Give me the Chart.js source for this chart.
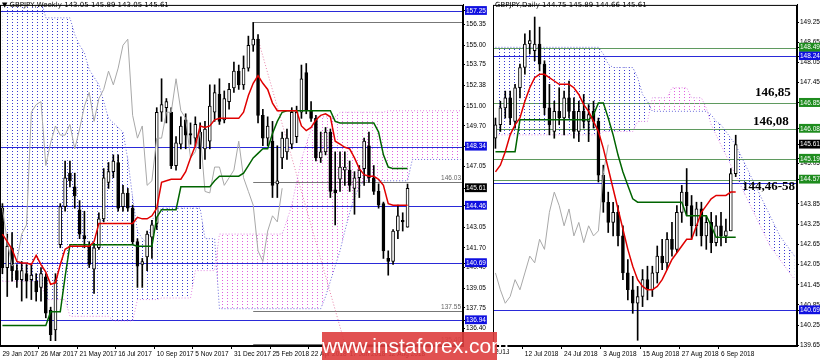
<!DOCTYPE html>
<html lang="en">
<head>
<meta charset="UTF-8">
<title>GBPJPY Weekly / Daily</title>
<script src="https://cdn.jsdelivr.net/npm/chart.js"></script>
<style>
  body { margin: 0; background: #fff; font-family: 'DejaVu Sans', sans-serif; }
  #wrap { position: relative; width: 820px; height: 363px; overflow: hidden; }
  canvas { position: absolute; top: 0; }
  .hdr { position: absolute; top: 1px; font-size: 7px; color: #000; white-space: nowrap; }
  .note { position: absolute; font-family: 'Liberation Serif', serif; font-weight: bold; font-size: 13px; color: #000; white-space: nowrap; }
  .cut { position: absolute; top: 348px; font-family: 'Liberation Sans', sans-serif; font-size: 6.5px; color: #000; }
  #wm { position: absolute; left: 322px; top: 332px; width: 175px; height: 28px; background: rgba(222,62,62,0.9);
        color: #fff; font-family: 'Liberation Sans', Arial, sans-serif; font-size: 21px; line-height: 28px; text-align: center; }
</style>
</head>
<body>
<div id="wrap">
  <canvas id="weekly" width="492" height="363" style="left:0"></canvas>
  <canvas id="daily" width="328" height="363" style="left:492px"></canvas>
  <div class="hdr" style="left:2px">▼ GBPJPY,Weekly 143.05 145.89 143.05 145.61</div>
  <div class="hdr" style="left:495px">GBPJPY,Daily 144.75 145.89 144.66 145.61</div>
  <div class="note" style="left:755px;top:84px">146,85</div>
  <div class="note" style="left:753px;top:113px">146,08</div>
  <div class="note" style="left:742px;top:178px">144,46-58</div>
  <div class="cut" style="left:495px">2018</div>
  <div id="wm">www.instaforex.com</div>
</div>
<script>
// ---------- weekly (left) ----------
const lSlots = 96;
const lTickIdx  = [0, 8, 16, 24, 32, 40, 48, 56, 64, 72, 80];
const lTickText = ['29 Jan 2017','26 Mar 2017','21 May 2017','16 Jul 2017','10 Sep 2017','5 Nov 2017',
                   '31 Dec 2017','25 Feb 2018','22 Apr 2018','17 Jun 2018','12 Aug 2018'];
const lOpen  = [144.3,140.4,141.7,140.2,139.6,140.0,139.6,139.5,139.1,139.8, 137.6,136.3,141.9,144.4,146.6,145.7,144.2,142.5,141.8,140.3,
                141.7,143.6,146.0,146.7,147.3,144.4,145.3,144.3,142.1,140.6, 141.1,142.4,143.3,150.6,150.9,150.6,147.1,148.5,150.1,149.2,
                148.9,149.3,148.2,148.7,150.6,151.8,150.1,151.3,152.2,153.3, 152.4,153.5,155.0,155.4,150.4,148.9,148.7,145.9,147.6,148.0,
                148.5,149.0,150.6,153.2,150.7,150.2,147.6,148.0,149.3,145.5, 146.2,146.8,146.8,145.6,146.3,146.9,148.4,146.3,145.4,144.6,
                141.0,140.8,142.8,143.5,143.05];
const lHigh  = [144.6,142.6,142.7,140.6,140.8,140.6,140.6,140.0,140.4,140.0, 137.8,140.0,144.6,147.4,147.4,146.6,144.8,144.1,142.1,142.0,
                144.0,146.9,147.3,147.8,147.8,145.8,145.6,144.5,142.3,141.0, 142.8,143.5,150.9,152.8,151.5,150.9,149.0,150.3,150.5,149.9,
                150.3,149.9,150.0,152.4,152.4,152.8,152.0,152.5,153.9,153.7, 154.3,155.6,156.5,155.7,150.8,150.3,150.0,148.4,149.3,149.5,
                150.9,151.0,153.7,153.8,151.3,150.4,149.3,149.6,149.5,148.0, 148.0,148.0,147.4,146.7,147.1,148.9,149.3,147.1,145.9,144.7,
                141.5,142.9,144.5,144.0,145.89];
const lLow   = [140.0,138.5,139.5,139.1,138.2,138.4,138.3,138.2,138.2,137.1, 135.6,135.6,141.7,144.1,145.7,144.3,142.3,141.7,140.4,138.7,
                141.6,143.4,145.6,146.3,144.1,144.1,144.1,141.9,139.1,139.1, 140.2,141.0,142.9,150.0,149.9,146.9,146.8,148.2,148.2,148.5,
                148.4,146.9,147.5,148.2,150.0,149.8,149.9,150.8,151.9,152.1, 152.1,153.3,154.6,149.9,148.4,148.4,145.0,145.0,146.9,147.5,
                148.2,148.6,150.2,150.5,150.0,147.4,147.3,147.8,145.0,143.2, 145.4,145.8,145.4,143.9,145.0,145.8,146.0,145.2,144.3,141.0,
                139.9,140.6,142.3,142.8,143.05];
const lClose = [140.4,141.8,140.2,139.6,140.2,139.5,139.9,138.8,140.0,137.4, 136.0,139.6,144.4,146.3,146.1,145.1,142.6,142.3,140.6,141.7,
                143.6,146.3,146.7,147.4,144.3,145.3,144.3,142.1,140.5,140.8, 142.6,143.2,150.6,151.1,151.3,147.1,148.6,149.7,149.1,149.1,
                149.8,148.2,149.5,151.0,151.9,150.0,151.5,152.1,153.3,152.4, 153.5,155.0,155.4,150.4,148.9,149.7,145.8,146.1,148.9,148.9,
                150.6,150.6,152.8,150.7,150.2,147.6,148.0,149.3,145.4,145.3, 147.0,147.0,145.8,146.3,146.8,148.7,146.3,145.4,144.5,141.5,
                140.8,142.8,143.8,143.4,145.61];
const lTenkan = [142.6,142.1,141.6,140.8,140.7,140.7,140.6,141.2,140.6,140.1, 139.3,139.4,140.6,141.6,141.8,141.8,141.8,141.8,141.8,142.1,
                 143.3,143.3,143.3,143.3,143.3,143.3,143.3,143.3,143.7,143.6, 143.6,143.8,144.3,146.0,146.1,146.2,146.2,146.2,146.7,147.6,
                 148.4,149.7,149.6,149.7,150.1,150.2,150.2,150.2,150.2,150.2, 150.6,151.7,152.5,153.0,152.5,152.1,151.2,150.7,150.7,150.7,
                 150.7,150.7,149.7,149.4,149.6,150.1,150.4,150.5,150.3,148.7, 148.5,148.3,148.2,147.6,146.9,146.5,146.4,146.4,146.2,145.8,
                 144.6,144.5,144.5,144.5,144.5];
const lKijun  = [136.6,136.6,136.6,136.6,136.6,136.6,136.6,136.6,136.6,136.6, 137.5,137.5,137.5,139.8,141.9,141.9,141.9,141.9,141.9,141.9,
                 141.9,141.9,141.9,141.9,141.9,141.9,141.9,141.9,141.8,141.8, 141.8,141.8,143.7,144.2,144.2,144.2,144.2,145.7,145.7,145.7,
                 145.7,145.7,145.7,145.7,146.1,146.4,146.4,146.4,146.4,146.4, 146.6,147.1,147.6,147.9,148.2,148.2,149.2,150.0,150.6,150.7,
                 150.7,150.7,150.7,150.7,150.7,150.7,150.7,150.7,150.7,150.0, 149.9,149.9,149.9,149.9,149.9,149.9,149.9,149.9,149.3,147.8,
                 147.0,146.9,146.9,146.9,146.9];
const lChikou = [144.3,142.1,140.5,140.8,142.6,143.2,150.6,151.1,151.3,147.1, 148.6,149.7,149.1,149.1,149.8,148.2,149.5,151.0,151.9,150.0,
                 151.5,152.1,153.3,152.4,153.5,155.0,155.4,150.4,148.9,149.7, 145.8,146.1,148.9,148.9,150.6,150.6,152.8,150.7,150.2,147.6,
                 148.0,149.3,145.4,145.3,147.0,147.0,145.8,146.3,146.8,148.7, 146.3,145.4,144.5,141.5,140.8,142.8,143.8,143.4,145.61];
const lSpanA = [158,158,158,158,158,158,158,158,158, 156.8,156.8,156.8,156.8,156.8,156.8,
                155.7,155.0,154.5,153.4,152.9,152.4,151.3,150.2,149.9,149.6,149.3,147.5,145.0,142.8,142.3,142.0,143.5,144.0,
                144.3,144.3,144.3,144.3,144.3,144.3,144.3,144.3,144.3, 142.3,142.3,142.3,
                137.7,137.7,137.7,137.7,137.7,137.7,137.7,137.7,137.7,137.7,137.7,137.7,137.7,137.7,137.7,137.7,137.7,137.7,137.7,137.7,137.7,137.7,
                138.5,139.5,140.5,141.5,142.8,144.0,145.0,145.7,
                146.1,146.1,146.1,146.1,146.1,146.1,146.1,146.1,146.1,146.1,
                147.5,147.5,147.5,147.5,147.5,147.5,147.5,147.5,147.5,147.5,147.5];
const lSpanB = [139.5,139.5,139.5,139.5,139.5,139.5,139.5,139.5,139.5, 138.3,138.3,138.3,138.3,138.3,
                137.2,137.2,137.2,137.2,137.2,137.2,137.2,137.2,137.2, 136.9,136.9,136.9,136.9,136.9,
                138.3,138.3,138.3,138.3,138.3, 138.4,138.4,138.4,138.4,138.4,138.4,138.4, 140.2,140.2,140.2,140.2,140.2,
                142.6,142.6,142.6,142.6,142.6,142.6,142.6,142.6,142.6,142.6,142.6,142.6,142.6,142.6,
                143.5,144.5,146.0,147.5,148.5,149.5, 150.3,150.3,150.3,150.3,150.3,
                150.6,150.6,150.6,150.6,150.6,150.6,150.6,150.6,150.6,150.6,
                150.7,150.7,150.7,150.7,150.7,150.7,150.7,150.7,150.7,150.7,150.7,150.7,150.7,150.7,150.7,150.7];
const lTrendIdx = [53, 71], lTrendVal = [155.4, 135.4];
const lBlueLevels = [157.25, 148.34, 144.46, 140.69, 136.94];
const lGreyLevels = [156.52, 146.03, 137.55, 135.40];
const lGreyText   = ['', '146.03', '137.55', '135.40'];
const lGreyFrom = 52;
const lAxisTicks = [136.40, 137.75, 139.05, 140.40, 141.70, 143.05, 147.05, 149.70, 151.00, 152.38, 153.75, 155.00, 156.35];

// ---------- daily (right) ----------
const rSlots = 62;
const rTickIdx  = [6, 14, 22, 30, 38, 46];
const rTickText = ['12 Jul 2018','24 Jul 2018','3 Aug 2018','15 Aug 2018','27 Aug 2018','6 Sep 2018'];
const rOpen  = [145.8,146.2,146.7,147.0,146.3,147.3,147.9,148.6,148.4,148.6, 148.0,146.7,146.0,146.6,146.4,147.0,146.6,146.0,146.6,146.3,
                146.6,146.3,144.7,143.9,143.3,143.6,142.9,141.8,141.3,140.9, 141.1,141.6,141.3,141.8,142.3,142.1,142.8,142.5,143.6,144.2,
                143.8,143.2,143.7,142.9,143.3,142.7,143.2,142.9,143.05,144.75];
const rHigh  = [146.4,146.9,147.2,147.2,147.4,148.0,148.9,149.0,149.4,149.1, 148.1,147.4,146.9,147.3,147.2,147.5,147.0,146.9,147.1,146.8,
                146.9,146.4,145.0,144.2,143.9,143.8,143.2,142.2,141.7,141.4, 141.9,142.0,142.0,142.6,142.8,143.0,143.3,143.8,144.4,144.9,
                144.1,143.9,143.9,143.5,143.6,143.5,143.6,143.4,144.9,145.89];
const rLow   = [145.5,146.0,146.4,146.2,146.1,147.0,147.7,148.3,148.1,147.8, 146.5,145.9,145.8,146.2,145.9,146.4,145.8,145.7,146.1,145.7,
                146.1,144.5,143.6,143.0,142.9,142.6,141.6,141.0,140.6,139.8, 140.8,141.0,141.1,141.5,141.9,141.9,142.3,142.4,143.3,143.5,
                142.8,142.9,142.6,142.5,142.4,142.6,142.6,142.7,143.05,144.66];
const rClose = [146.2,146.7,147.0,146.4,147.3,147.9,148.6,148.7,148.6,148.0, 146.7,146.2,146.6,146.4,147.0,146.6,146.0,146.6,146.3,146.5,
                146.3,144.7,143.9,143.3,143.6,142.9,141.8,141.3,140.9,141.1, 141.6,141.3,141.8,142.3,142.1,142.8,142.5,143.6,144.2,143.8,
                143.2,143.7,142.9,143.3,142.7,143.2,142.9,143.05,144.75,145.61];
const rTenkan = [144.8,145.0,145.4,145.9,146.2,146.4,146.9,147.3,147.6,147.7, 147.7,147.6,147.5,147.4,147.4,147.4,147.3,147.1,146.8,146.6,
                 146.3,146.0,145.5,144.9,144.3,143.7,143.1,142.5,142.0,141.6, 141.4,141.3,141.3,141.4,141.6,141.9,142.2,142.4,142.6,142.8,
                 142.8,143.2,143.6,143.8,144.0,144.1,144.1,144.1,144.2,144.2];
const rKijun  = [145.4,145.4,145.4,145.4,145.4,146.35,146.35,146.35,146.35,146.35, 146.35,146.35,146.35,146.35,146.35,146.35,146.35,146.35,146.35,146.35,
                 146.5,146.85,146.85,146.4,145.9,145.3,144.8,144.4,144.0,143.9, 143.9,143.9,143.9,143.9,143.9,143.9,143.9,143.9,143.9,143.5,
                 143.5,143.5,143.5,143.5,143.2,142.86,142.86,142.86,142.86,142.86];
const rChikou = [141.8,141.3,140.9,141.1,141.6,141.3,141.8,142.3,142.1,142.8, 142.5,143.6,144.2,143.8,143.2,143.7,142.9,143.3,142.7,143.2,
                 142.9,143.05,144.75,145.61];
const rSpanA = [148.5,148.5,148.5,148.5,148.5,148.5,148.5,148.5,148.5,148.5,148.5,148.5,148.5,148.5,148.5,148.5,148.5,148.5,148.5,148.5,148.5,148.5,
                148.3,148.0, 147.9,147.9,147.9,147.9,147.9, 147.6,147.1,146.9,
                146.6,146.6,146.6,146.6,146.6,146.6,146.6,146.6,146.6,146.6,146.6,146.6,
                146.5,146.3,146.2,146.0,145.8,145.6,145.3,145.0,144.7,144.4,144.1,143.8,143.5,143.2,142.9,142.7,142.5,142.3];
const rSpanB = [145.9,145.9,145.9,145.9,145.9,145.9,145.9,145.9,145.9,145.9,145.9,145.9,145.9,145.9,145.9,145.9,145.9,145.9,145.9,145.9,145.9,145.9,
                146.0,146.0,146.0,146.0,146.0,146.0,146.0, 146.3,146.3,146.3, 147.0,147.0,147.0,147.0, 147.3,147.3,147.3,147.3, 147.0,147.0,147.0,
                146.7,146.2,145.9,145.6,145.3,145.0,144.7,144.4,144.1,143.8,143.5,143.2,142.9,142.6,142.4,142.2,142.0,141.8,141.6];
const rBlueLevels  = [148.24, 144.46, 140.69];
const rGreenLevels = [148.49, 146.85, 146.08, 145.19, 144.57];
const rAxisTicks = [139.65, 140.25, 140.85, 141.45, 142.05, 142.65, 143.25, 143.85, 145.05, 146.85, 147.45, 148.05, 148.65, 149.25];

// ---------- helpers ----------
function dotPattern(color) {
  const c = document.createElement('canvas');
  c.width = 5; c.height = 3;
  const g = c.getContext('2d');
  g.fillStyle = color;
  g.fillRect(2, 1, 1, 1);
  return g.createPattern(c, 'repeat');
}
const bluePat = dotPattern('#3a3ad0');
const pinkPat = dotPattern('#e060e0');
const axisFont = { family: 'Liberation Sans', size: 6.5 };

const levelsPlugin = {
  id: 'levels',
  beforeDatasetsDraw(chart, args, opts) {
    const y = chart.scales.y, x = chart.scales.x, a = chart.chartArea, g = chart.ctx;
    g.save();
    g.beginPath(); g.rect(a.left, a.top, a.right - a.left, a.bottom - a.top); g.clip();
    (opts.lines || []).forEach(l => {
      const py = Math.round(y.getPixelForValue(l.v)) + 0.5;
      const x0 = l.from != null ? x.getPixelForValue(l.from) : a.left;
      g.strokeStyle = l.color; g.lineWidth = 1;
      g.beginPath(); g.moveTo(x0, py); g.lineTo(a.right, py); g.stroke();
      if (l.text) {
        g.fillStyle = '#666'; g.font = '6.5px "Liberation Sans"';
        g.textAlign = 'right'; g.textBaseline = 'bottom';
        g.fillText(l.text, a.right - 2, py - 1);
      }
    });
    g.restore();
  }
};
const framePlugin = {
  id: 'frame',
  afterDraw(chart) {
    const a = chart.chartArea, g = chart.ctx;
    g.save(); g.strokeStyle = '#000'; g.lineWidth = 1;
    g.strokeRect(a.left + 0.5, a.top + 0.5, a.right - a.left - 1, a.bottom - a.top - 1);
    g.restore();
  }
};

function build(id, d) {
  const labels = Array.from({ length: d.slots }, (_, i) => String(i));
  const xText = {};
  d.tickIdx.forEach((k, i) => { xText[k] = d.tickText[i]; });
  const wicks = d.low.map((v, i) => [v, d.high[i]]);
  const bodies = d.open.map((v, i) => [v, d.close[i]]);
  const up = d.open.map((v, i) => d.close[i] >= v);
  const line = (data, color, w, extra) => Object.assign({
    type: 'line', data, borderColor: color, borderWidth: w, pointRadius: 0, tension: 0, fill: false, order: 0
  }, extra || {});

  const datasets = [
    line(d.tenkan, '#e00000', 1.5),
    line(d.kijun, '#006400', 1.5),
    line(d.chikou, '#a8a8a8', 1),
    line(d.spanA, 'rgba(70,70,210,0.8)', 1, { borderDash: [1, 2], order: 3, fill: { target: 4, above: bluePat, below: pinkPat } }),
    line(d.spanB, 'rgba(220,110,220,0.8)', 1, { borderDash: [1, 2], order: 3 }),
    { type: 'bar', data: wicks, backgroundColor: '#000', borderWidth: 0, barThickness: 1, grouped: false, order: 2 },
    { type: 'bar', data: bodies, backgroundColor: up.map(u => u ? '#fff' : '#000'), borderColor: '#000', borderWidth: 1,
      borderSkipped: false, barThickness: 3, minBarLength: 1, grouped: false, order: 1 }
  ];
  if (d.trend) datasets.push(line(d.trend, 'rgba(230,120,160,0.9)', 1, { borderDash: [1, 2], spanGaps: true, order: 3 }));

  const tickList = d.axisTicks.concat(Object.keys(d.boxes).map(Number));
  new Chart(document.getElementById(id), {
    type: 'bar',
    data: { labels, datasets },
    options: {
      responsive: false, animation: false, devicePixelRatio: 1,
      layout: { padding: { top: 3, left: d.padLeft, right: 0, bottom: 0 } },
      plugins: { legend: { display: false }, tooltip: { enabled: false }, levels: { lines: d.lines } },
      scales: {
        x: {
          offset: true,
          afterFit: s => { s.height = 17; },
          grid: { drawOnChartArea: false, tickLength: 3, color: c => (xText[c.index] ? '#000' : 'rgba(0,0,0,0)') },
          border: { color: '#000' },
          ticks: { autoSkip: false, maxRotation: 0, align: 'start', padding: 1,
                   font: axisFont, color: '#000',
                   callback: (v, i) => xText[i] || '' }
        },
        y: {
          position: 'right', min: d.min, max: d.max,
          afterFit: s => { s.width = d.axisW; },
          afterBuildTicks: s => { s.ticks = tickList.map(v => ({ value: v })); },
          grid: { drawOnChartArea: false, tickLength: 2, color: '#000' },
          border: { color: '#000' },
          ticks: {
            autoSkip: false, padding: 1, font: axisFont,
            callback: v => Number(v).toFixed(2),
            color: c => (d.boxes[c.tick.value] ? '#fff' : '#000'),
            showLabelBackdrop: c => !!d.boxes[c.tick.value],
            backdropColor: c => d.boxes[c.tick.value] || 'rgba(0,0,0,0)',
            backdropPadding: { top: 1, bottom: 0, left: 1, right: 1 }
          }
        }
      }
    },
    plugins: [levelsPlugin, framePlugin]
  });
}

const lTrend = new Array(lSlots).fill(null);
lTrendIdx.forEach((k, i) => { lTrend[k] = lTrendVal[i]; });

build('weekly', {
  slots: lSlots, tickIdx: lTickIdx, tickText: lTickText,
  open: lOpen, high: lHigh, low: lLow, close: lClose,
  tenkan: lTenkan, kijun: lKijun, chikou: lChikou, spanA: lSpanA, spanB: lSpanB, trend: lTrend,
  min: 135.25, max: 157.65, axisW: 29, padLeft: 0,
  axisTicks: lAxisTicks,
  boxes: { 157.25: '#1010e0', 148.34: '#1010e0', 145.61: '#000', 144.46: '#1010e0', 140.69: '#1010e0', 136.94: '#1010e0' },
  lines: lBlueLevels.map(v => ({ v, color: '#2a2ad8' }))
          .concat(lGreyLevels.map((v, i) => ({ v, color: '#777', from: lGreyFrom, text: lGreyText[i] })))
});

build('daily', {
  slots: rSlots, tickIdx: rTickIdx, tickText: rTickText,
  open: rOpen, high: rHigh, low: rLow, close: rClose,
  tenkan: rTenkan, kijun: rKijun, chikou: rChikou, spanA: rSpanA, spanB: rSpanB,
  min: 139.63, max: 149.76, axisW: 23, padLeft: 1,
  axisTicks: rAxisTicks,
  boxes: { 140.69: '#1010e0', 144.57: '#1e8c1e', 145.19: '#1e8c1e', 145.61: '#000', 146.08: '#1e8c1e',
           146.85: '#1e8c1e', 148.24: '#1010e0', 148.49: '#1e8c1e' },
  lines: rBlueLevels.map(v => ({ v, color: '#2a2ad8' }))
          .concat(rGreenLevels.map(v => ({ v, color: '#5f9a5f' })))
});
</script>
</body>
</html>
